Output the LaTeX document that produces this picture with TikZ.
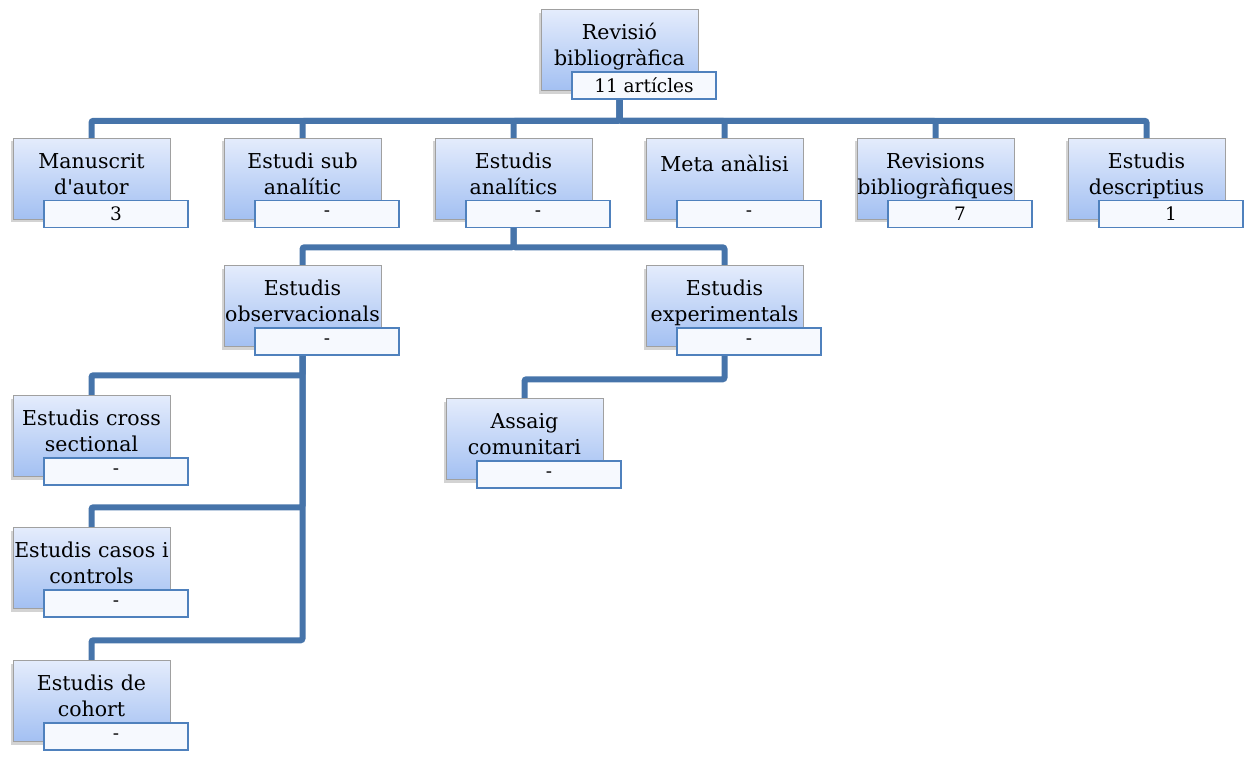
\documentclass[tikz,border=0pt]{standalone}
\usepackage{fontspec}
\setmainfont{DejaVu Serif}
\usetikzlibrary{positioning,calc,backgrounds,shadows}
\definecolor{linkblue}{RGB}{70,116,170}
\definecolor{boxtop}{RGB}{228,236,252}
\definecolor{boxbot}{RGB}{163,192,242}
\definecolor{boxline}{RGB}{160,160,160}
\definecolor{countline}{RGB}{79,129,189}
\definecolor{countfill}{RGB}{246,249,254}

\begin{document}
\begin{tikzpicture}[x=1pt, y=1pt]
	\tikzstyle{topic}=[rectangle, draw=boxline, top color=boxtop, bottom color=boxbot,
		minimum width=157pt, minimum height=81pt, inner sep=0pt, align=center,
		text width=157pt, text height=30pt, text depth=51pt,
		font=\fontsize{20.5}{26}\selectfont,
		drop shadow={shadow xshift=-2pt, shadow yshift=-3pt, opacity=0.35}]
	\tikzstyle{count}=[rectangle, draw=countline, line width=1.5pt, fill=countfill,
		minimum width=144pt, minimum height=27pt, inner sep=0pt,
		font=\fontsize{18.5}{21}\selectfont]
	\tikzstyle{link}=[draw=linkblue, line width=6pt, rounded corners=2pt]

	\useasboundingbox (0,0) rectangle (1249,-756);

	\node [topic] (rev) at (619.5,-50) {Revisió\\bibliogràfica};
	\node [count] (rev-n) at ($(rev)+(24.5,-35.5)$) {11 artícles};

	% first level
	\node [topic] (manu) at (91.5,-178.5) {Manuscrit\\d\textquotesingle autor};
	\node [count] (manu-n) at ($(manu)+(24.5,-35.5)$) {3};
	\node [topic] (sub) at (302.5,-178.5) {Estudi sub\\analític};
	\node [count] (sub-n) at ($(sub)+(24.5,-35.5)$) {-};
	\node [topic] (ana) at (513.5,-178.5) {Estudis\\analítics};
	\node [count] (ana-n) at ($(ana)+(24.5,-35.5)$) {-};
	\node [topic, text depth=45pt] (meta) at (724.5,-178.5) {Meta anàlisi};
	\node [count] (meta-n) at ($(meta)+(24.5,-35.5)$) {-};
	\node [topic] (revs) at (935.5,-178.5) {Revisions\\bibliogràfiques};
	\node [count] (revs-n) at ($(revs)+(24.5,-35.5)$) {7};
	\node [topic] (desc) at (1146.5,-178.5) {Estudis\\descriptius};
	\node [count] (desc-n) at ($(desc)+(24.5,-35.5)$) {1};

	% analitics
	\node [topic] (obs) at (302.5,-306) {Estudis\\observacionals};
	\node [count] (obs-n) at ($(obs)+(24.5,-35.5)$) {-};
	\node [topic] (exp) at (724.5,-306) {Estudis\\experimentals};
	\node [count] (exp-n) at ($(exp)+(24.5,-35.5)$) {-};

	% observacionals
	\node [topic] (cross) at (91.5,-436) {Estudis cross\\sectional};
	\node [count] (cross-n) at ($(cross)+(24.5,-35.5)$) {-};
	\node [topic] (casos) at (91.5,-568) {Estudis casos i\\controls};
	\node [count] (casos-n) at ($(casos)+(24.5,-35.5)$) {-};
	\node [topic] (coh) at (91.5,-701) {Estudis de\\cohort};
	\node [count] (coh-n) at ($(coh)+(24.5,-35.5)$) {-};

	% experimentals
	\node [topic] (assaig) at (524.5,-439) {Assaig\\comunitari};
	\node [count] (assaig-n) at ($(assaig)+(24.5,-35.5)$) {-};

	\begin{scope}[on background layer]
		\draw [link] (rev.south) |- ([yshift=17pt]manu.north) -- (manu.north);
		\draw [link] (rev.south) |- ([yshift=17pt]sub.north) -- (sub.north);
		\draw [link] (rev.south) |- ([yshift=17pt]ana.north) -- (ana.north);
		\draw [link] (rev.south) |- ([yshift=17pt]meta.north) -- (meta.north);
		\draw [link] (rev.south) |- ([yshift=17pt]revs.north) -- (revs.north);
		\draw [link] (rev.south) |- ([yshift=17pt]desc.north) -- (desc.north);
		\draw [link] (ana.south) |- ([yshift=18pt]obs.north) -- (obs.north);
		\draw [link] (ana.south) |- ([yshift=18pt]exp.north) -- (exp.north);
		\draw [link] (obs.south) |- ([yshift=20pt]cross.north) -- (cross.north);
		\draw [link] (obs.south) |- ([yshift=20pt]casos.north) -- (casos.north);
		\draw [link] (obs.south) |- ([yshift=20pt]coh.north) -- (coh.north);
		\draw [link] (exp.south) |- ([yshift=19pt]assaig.north) -- (assaig.north);
	\end{scope}
\end{tikzpicture}
\end{document}
